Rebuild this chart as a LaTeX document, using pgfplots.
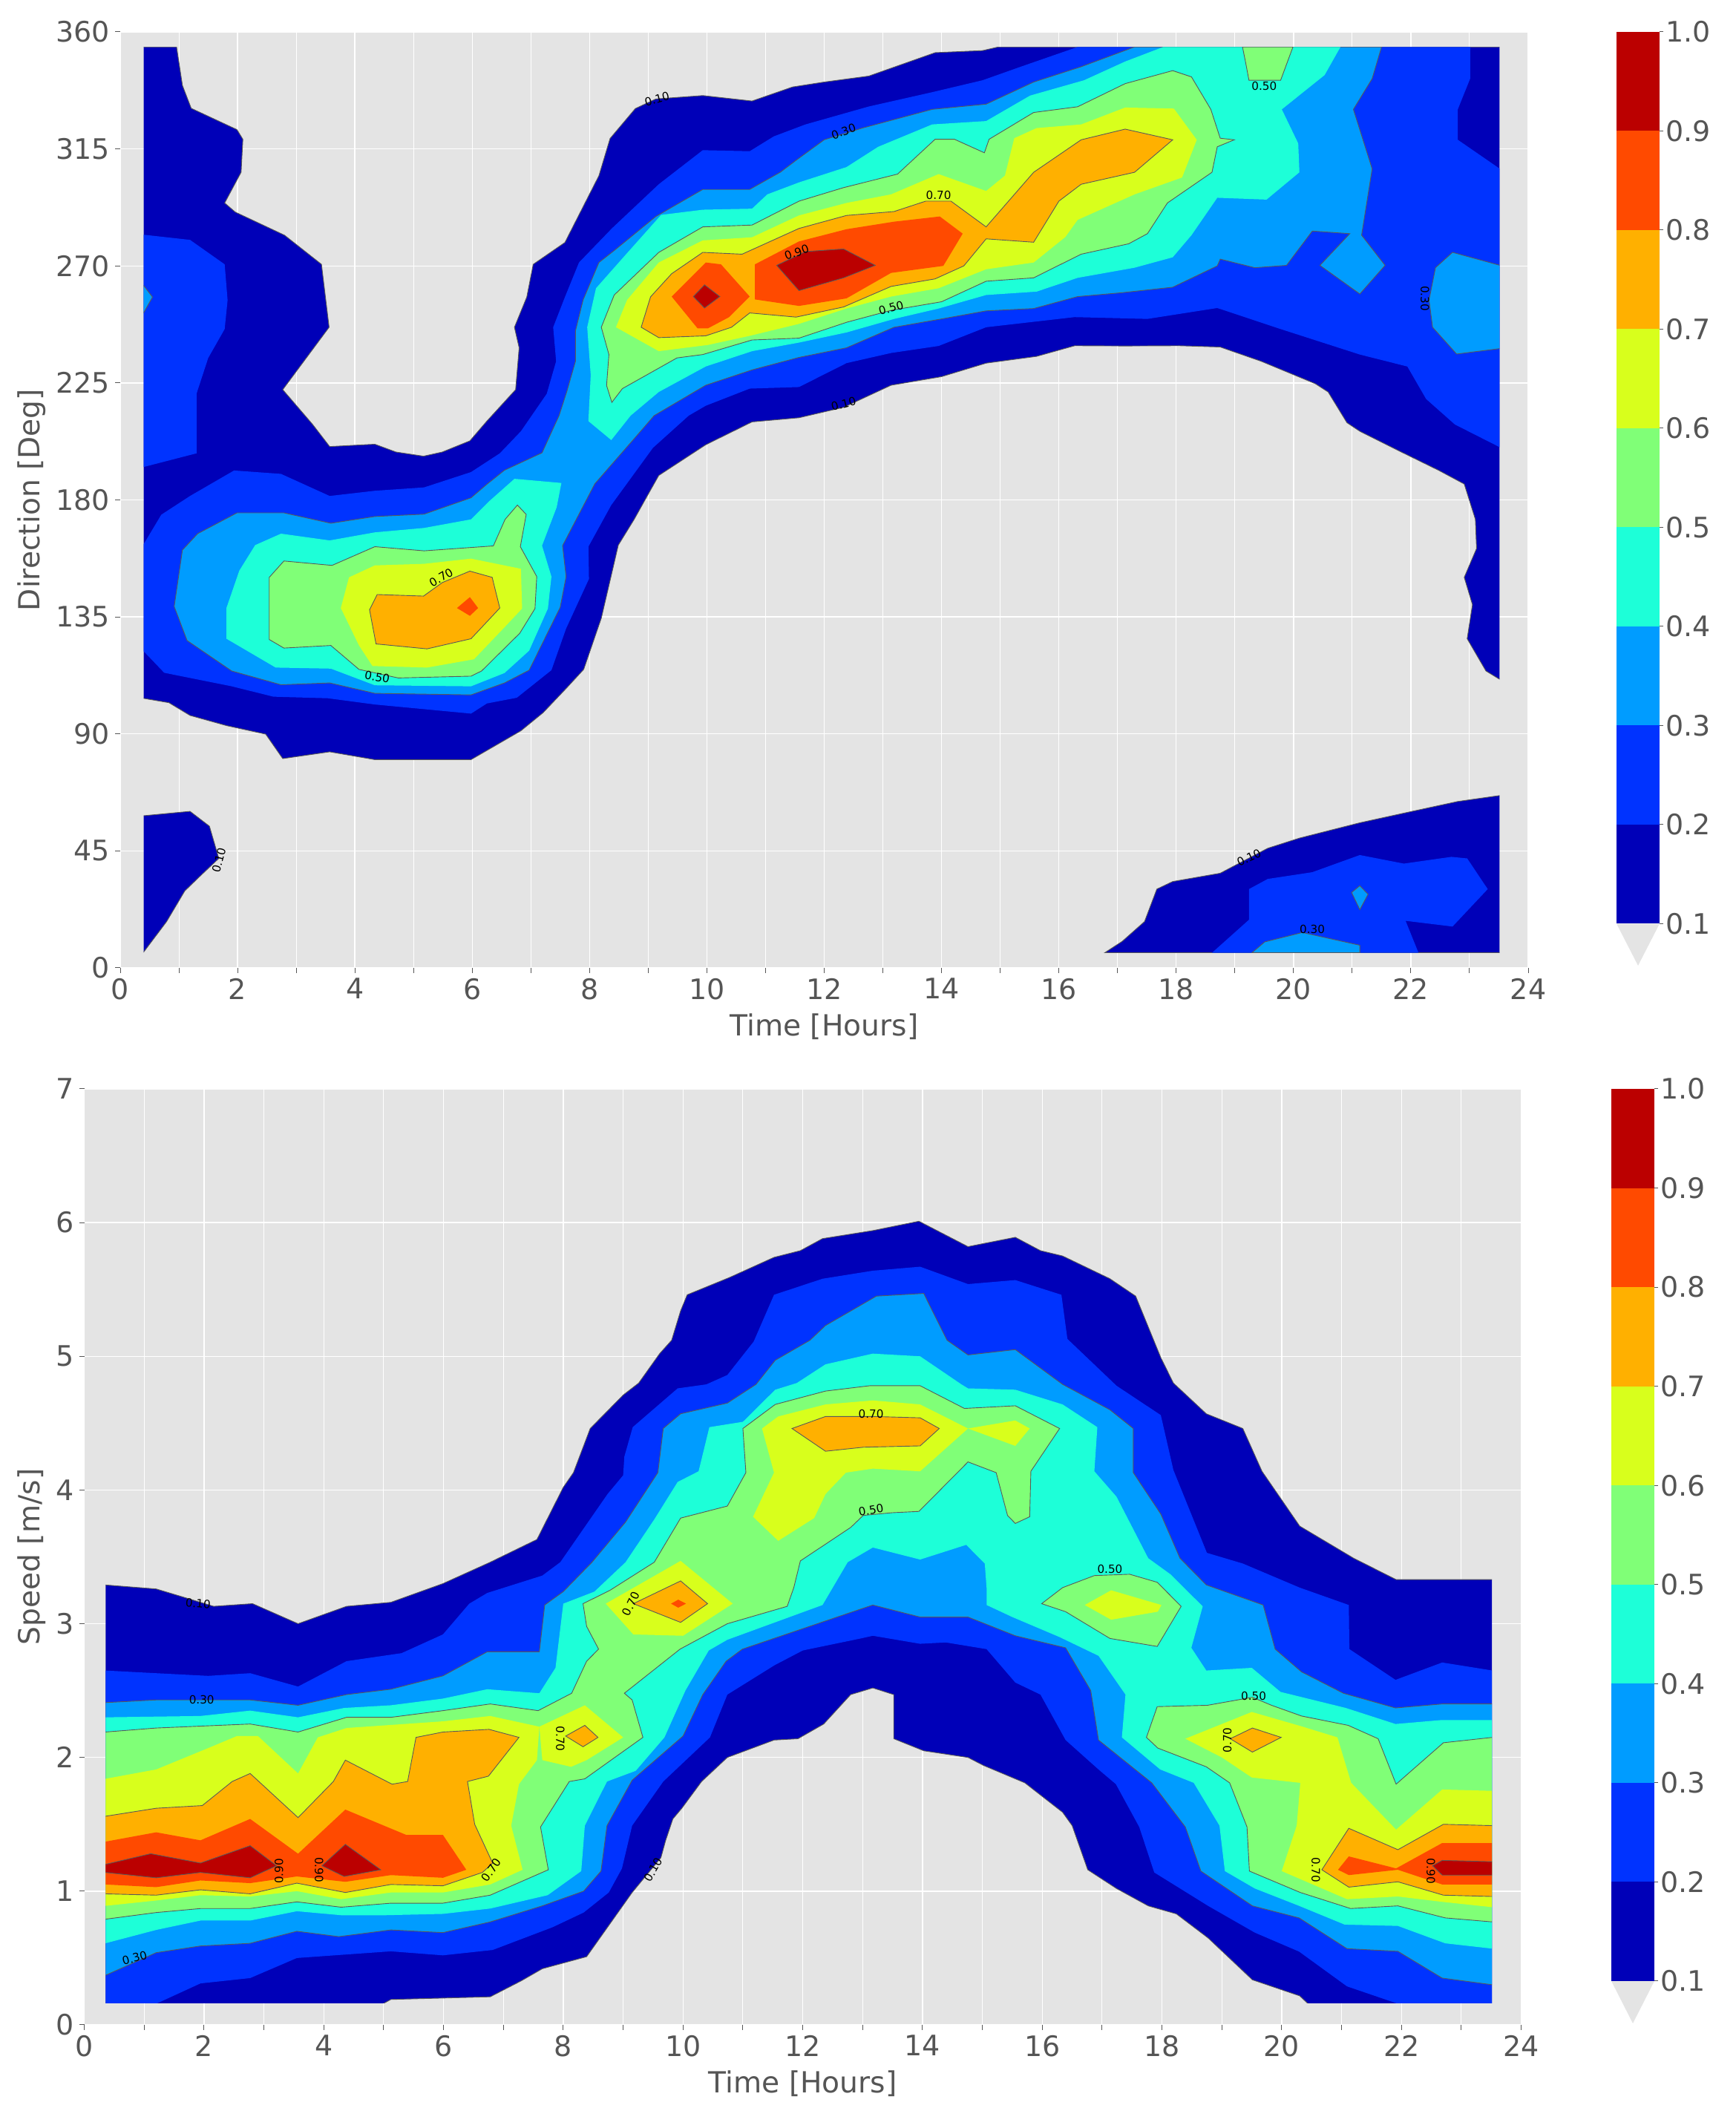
\documentclass[border=0pt]{standalone}
\usepackage{fontspec}
\usepackage{pgfplots}
\pgfplotsset{compat=1.18}
\setmainfont{DejaVu Sans}
\definecolor{ca}{HTML}{0000B8}
\definecolor{cb}{HTML}{0033FF}
\definecolor{cc}{HTML}{009CFF}
\definecolor{cd}{HTML}{1DFFD8}
\definecolor{ce}{HTML}{80FF77}
\definecolor{cf}{HTML}{D8FF1C}
\definecolor{cg}{HTML}{FFB000}
\definecolor{ch}{HTML}{FF4A00}
\definecolor{ci}{HTML}{BB0000}
\definecolor{ggrey}{HTML}{E4E4E4}
\definecolor{txt}{HTML}{555555}
\newcommand{\lf}[2]{\addplot[fill=#1,draw=none,forget plot] coordinates {#2} --cycle;}
\newcommand{\lc}[2]{\addplot[fill=#1,draw=black!65,line width=0.45pt,forget plot] coordinates {#2} --cycle;}
\newcommand{\clab}[4]{\node[font=\fontsize{7.6}{9}\selectfont,text=black,rotate=#3,inner sep=0pt] at (axis cs:#1,#2) {#4};}
\pgfplotsset{
  heat/.style={
    scale only axis, anchor=south west, tick pos=left, tick align=outside,
    xmin=0,xmax=24, xtick={0,2,...,24}, minor x tick num=1, minor y tick num=0,
    grid=both,
    major grid style={white,line width=0.7pt},
    minor grid style={white,line width=0.5pt},
    axis background/.style={fill=ggrey},
    axis line style={draw=none},
    major tick style={txt,line width=0.5pt},
    minor tick style={txt,line width=0.5pt},
    major tick length=3.5pt, minor tick length=3.5pt,
    /pgf/number format/assume math mode=true,
    tick label style={font=\fontsize{19}{23}\selectfont,text=txt},
    label style={font=\fontsize{19.6}{23}\selectfont,text=txt},
    xlabel style={yshift=-2.7pt},
    xlabel={Time [Hours]},
    xticklabel style={/pgf/number format/fixed},
    yticklabel style={/pgf/number format/fixed},
  },
  cbar/.style={
    scale only axis, anchor=south west, clip=false,
    xmin=0,xmax=1,ymin=0.1,ymax=1, width=29pt,
    xtick=\empty, ytick={0.1,0.2,...,1.0}, yticklabels={0.1,0.2,0.3,0.4,0.5,0.6,0.7,0.8,0.9,1.0},
    ytick pos=right, tick align=outside,
    axis line style={draw=none},
    major tick style={txt,line width=0.5pt}, major tick length=2.5pt,
    tick label style={font=\fontsize{19}{23}\selectfont,text=txt,inner sep=1.5pt},
    /pgf/number format/assume math mode=true,
  }
}
\begin{document}
\begin{tikzpicture}[x=1pt,y=1pt]
\path[use as bounding box] (0,0) rectangle (1169,1420);
%% ---------------- TOP
\begin{axis}[heat, at={(81pt,768pt)}, width=948.5pt, height=630.5pt,
  ymin=0,ymax=360, ytick={0,45,...,360}, ylabel={Direction [Deg]}]
\begin{scope}
\clip (axis cs:0.40,5.95) rectangle (axis cs:23.51,354.05);
\lc{ca}{(0.39,354.2)(0.96,354.2)(1.06,339.4)(1.21,330.6)(1.99,322.4)(2.09,318.7)(2.06,306)(1.78,294.2)(1.96,290.7)(2.80,281.8)(3.43,270.6)(3.56,246.4)(2.77,222.4)(3.28,209)(3.57,200.5)(3.99,201)(4.34,201.4)(4.70,198.4)(5.17,196.8)(5.49,198.4)(5.96,202.7)(6.25,210.3)(6.74,222.4)(6.80,238.5)(6.72,246.4)(6.93,258)(7.04,270.6)(7.58,279)(8.16,304.7)(8.35,319)(8.78,330.5)(9.13,334.2)(9.93,335.5)(10.77,333.4)(11.46,338.8)(12.0,340.7)(12.76,343)(13.89,352)(14.7,352.8)(14.97,354.2)(23.52,354.2)(23.52,110.9)(23.28,114.2)(22.96,126.6)(23.05,139.7)(22.91,150.2)(23.12,161.3)(23.10,172.5)(22.91,186.1)(22.48,191.3)(21.83,198.5)(21.13,206.4)(20.91,209.7)(20.59,221.5)(20.37,224.7)(19.45,233.3)(18.75,238.8)(18.05,239.3)(17.13,239.2)(16.27,239.3)(15.62,235.2)(14.76,232.6)(14.0,227.4)(13.14,224.1)(12.33,215.6)(11.57,211.6)(10.77,210)(9.98,201.2)(9.18,189.4)(9.0,182.2)(8.76,172.5)(8.49,162.6)(8.2,134.5)(7.9,114.8)(7.61,107.7)(7.21,98.2)(6.83,91.2)(5.98,80.1)(4.34,80.1)(3.57,83.1)(2.77,80.5)(2.48,89.9)(1.81,93.2)(1.19,97.1)(0.83,102)(0.39,103.7)}
\lc{ca}{(0.39,58.5)(1.19,60.2)(1.52,54.5)(1.68,42.1)(1.37,35.5)(1.1,29.6)(0.79,17.8)(0.39,5.8)}
\lc{ca}{(16.78,5.8)(17.08,10.2)(17.46,17.8)(17.67,30.3)(17.94,33.2)(18.75,36.4)(19.56,46)(20.1,49.9)(21.13,55.8)(21.94,59.8)(22.8,64)(23.52,66.3)(23.52,5.8)}
\lf{cb}{(0.39,282)(1.19,280)(1.78,270.6)(1.83,256.8)(1.78,245.7)(1.5,234.6)(1.3,220.8)(1.30,197.9)(0.39,192.6)}
\lf{cb}{(0.39,162.6)(0.7,174.3)(1.19,181.5)(1.94,191.3)(2.74,190)(3.57,181.5)(4.34,183.5)(5.18,184.8)(5.98,190.7)(6.47,197.9)(6.83,206.4)(7.27,220.8)(7.43,233.3)(7.38,246.4)(7.58,258)(7.82,271.3)(8.38,284.4)(9.18,301.4)(9.93,314.5)(10.73,314.1)(11.14,319.8)(11.68,324.4)(12.76,331.3)(13.84,336.8)(14.7,341.4)(15.35,346.6)(16.32,354.2)(23.01,354.2)(23.01,342)(22.8,330.2)(22.8,318.5)(23.52,307.3)(23.52,200.2)(22.75,209)(22.26,218.8)(21.94,231.3)(21.13,235.9)(19.78,245.7)(18.70,253.8)(17.51,249.6)(16.27,250.3)(14.76,246.4)(13.95,239.2)(13.14,236.5)(12.38,232.6)(11.57,223.4)(10.73,222.8)(9.98,216.2)(9.69,212.4)(9.08,200)(8.37,178)(7.98,162)(7.99,149.6)(7.6,130.5)(7.35,114.5)(6.76,103.9)(6.25,101.7)(5.98,97.8)(4.34,101.3)(3.54,103.7)(2.61,104.3)(1.9,108.3)(0.75,113.5)(0.39,122)}
\lf{cb}{(19.24,30.3)(19.56,34.2)(20.32,36.8)(21.13,43.4)(21.88,40.1)(22.69,42.7)(22.96,42.1)(23.31,30.3)(22.71,15.9)(21.91,18.1)(22.13,5.8)(18.61,5.8)(19.24,18.5)}
\lc{cc}{(10.73,299.4)(11.25,306)(11.52,310.6)(12.0,318.5)(12.65,323)(13.84,330.2)(14.76,332.2)(15.57,340.7)(16.38,346.6)(17.29,354.2)(21.5,354.2)(21.34,342)(21.02,330.2)(21.34,307.3)(21.16,281.8)(21.56,270.2)(21.13,259.2)(20.45,270.2)(20.96,282.4)(20.32,283.4)(19.88,270.2)(19.34,269.3)(18.75,272.6)(18.7,270)(17.94,261.8)(17.08,259.7)(16.32,258.2)(15.57,253.6)(14.76,252.7)(14.0,249.6)(13.19,246.4)(12.38,238.5)(11.57,234.8)(10.77,230)(9.98,224.1)(9.1,212.4)(8.79,204.3)(8.09,186.2)(7.54,162.4)(7.6,150.5)(7.5,138.7)(6.97,114.5)(6.55,109.6)(5.98,105)(4.34,105.6)(3.57,109.6)(2.74,108.9)(1.9,114.2)(1.14,125.9)(0.92,139)(1.06,160.7)(1.32,167)(1.99,175)(2.79,175)(3.59,171)(4.34,173.6)(5.18,174.5)(5.98,180.8)(6.25,186)(6.55,191.4)(7.19,198.1)(7.48,212.4)(7.61,221.5)(7.76,233.3)(7.76,245)(7.89,256.9)(8.16,271.3)(8.42,275.9)(9.13,289)(9.93,299.4)}
\lc{cc}{(0.39,262.7)(0.55,258)(0.39,251.6)}
\lc{cc}{(22.71,275.2)(23.52,270.2)(23.52,238.2)(22.78,236.1)(22.37,246.4)(22.31,256.9)(22.42,269.3)}
\lc{cc}{(19.29,5.8)(19.51,10)(20.15,13.6)(21.13,8.7)(21.13,5.8)}
\lc{cc}{(21.13,31.6)(21.27,28.3)(21.13,22.4)(20.99,29)}
\lf{cd}{(2.3,162.6)(2.74,167)(3.57,164.4)(4.34,167.5)(5.18,169.2)(5.98,172.5)(6.29,179.5)(6.72,188.1)(7.52,186.5)(7.44,177.2)(7.19,162.4)(7.35,150.5)(7.29,138.2)(6.97,122)(6.55,113.4)(5.98,108.3)(4.34,108.7)(3.59,115.1)(2.65,115.5)(1.81,126.6)(1.81,138.4)(2.03,152.8)}
\lf{cd}{(7.98,210.3)(8.02,228)(7.96,246.4)(8.11,261.4)(8.6,273.9)(9.22,289.6)(9.93,291.6)(10.77,292)(11.03,297.5)(11.57,302.1)(12.38,308)(12.92,315.8)(13.84,324.4)(14.76,325.7)(15.51,335.5)(16.43,341.4)(17.13,348.6)(17.78,354.2)(20.8,354.2)(20.53,343.4)(19.8,330.2)(20.08,317.1)(20.1,306)(19.54,295.5)(18.7,296.2)(18.26,281.8)(17.94,273.3)(17.29,269.3)(16.32,265.4)(15.62,260.1)(14.76,258.8)(13.95,253.6)(13.19,249.6)(12.38,244.4)(11.57,240.5)(10.77,237.2)(9.98,231.3)(9.18,221.5)(8.7,212.4)(8.37,203)}
\lc{ce}{(19.13,354.2)(19.99,354.2)(19.78,341.4)(19.24,341.4)(19.18,348.6)}
\lc{ce}{(8.38,217.5)(8.29,224)(8.33,235.9)(8.2,246.4)(8.42,258.8)(9.18,275.2)(9.93,285)(10.77,285.7)(11.57,294.9)(12.33,300.1)(13.25,305.3)(13.89,318.7)(14.22,318.7)(14.73,313.5)(14.81,318.7)(15.57,329)(16.32,331.2)(17.13,340.1)(17.94,345.1)(18.26,342.7)(18.59,330.2)(18.75,319.1)(18.99,318.5)(18.7,315.8)(18.61,306)(17.85,294.2)(17.51,282.4)(17.19,278.5)(16.38,274.5)(15.57,265.4)(14.76,264.1)(14.0,256.2)(13.14,252.9)(12.38,248.3)(11.57,242.2)(10.77,241.5)(9.93,235.9)(9.49,234.6)(8.56,222.8)}
\lc{ce}{(2.79,156.5)(3.61,154.8)(4.34,162)(5.18,160.4)(6.36,162.3)(6.56,172.5)(6.77,178)(6.92,174.4)(6.82,162)(7.1,150.5)(7.07,138.2)(6.81,128.7)(6.16,114.2)(5.98,112.2)(4.74,111.5)(4.07,114.8)(3.59,124)(2.79,123)(2.54,126.3)(2.54,150.2)}
\lf{cf}{(9.93,279.8)(10.77,281)(11.57,289.4)(12.38,294.2)(13.14,297.5)(13.95,305.3)(14.76,298.8)(15.08,304.7)(15.24,319.1)(15.62,323)(16.38,324.4)(17.13,330.9)(17.96,330.5)(18.35,318.5)(18.1,304)(17.29,297.5)(16.32,287.7)(16.11,281.1)(15.57,271.3)(14.76,268.7)(13.95,261.4)(13.14,258.2)(12.38,253.6)(11.57,247.7)(10.73,243.1)(10.02,239.6)(9.18,237.2)(8.45,246.4)(8.64,256.9)(9.18,271.3)}
\lf{cf}{(3.9,150.2)(4.34,154.8)(5.18,155.4)(5.98,157.4)(6.83,153.5)(6.85,138.2)(6.55,131)(6.03,118.7)(5.23,115.5)(4.3,116.1)(4.07,124)(3.76,138.4)}
\lc{cg}{(8.88,246.4)(9.04,258.1)(9.4,267)(9.93,275.2)(10.6,274.5)(11.57,284.4)(12.38,289.4)(13.19,290.9)(13.73,294.9)(14.16,294.9)(14.76,285)(15.57,306)(16.38,318.5)(17.13,322.6)(17.94,318.5)(17.29,306)(16.38,301.4)(16.0,294.9)(15.57,279.1)(14.76,280.4)(14.38,270)(13.89,265)(13.14,262.1)(12.33,254.2)(11.52,250.3)(10.73,251.9)(10.42,246.4)(9.98,243.1)(9.18,242.4)}
\lc{cg}{(4.38,143.6)(5.17,143)(5.49,148.2)(5.96,152.6)(6.34,150.2)(6.47,138.4)(5.98,126.6)(5.23,122.7)(4.36,124.6)(4.25,137.7)}
\lf{ch}{(9.98,271.3)(10.24,270.6)(10.73,258.2)(10.38,250.3)(10.02,246)(9.84,246)(9.4,258.2)}
\lf{ch}{(10.82,270.6)(11.57,279.4)(12.38,284.1)(13.19,287)(13.97,289)(14.36,282.4)(14.03,270)(13.14,267.3)(12.38,257.5)(11.57,254.6)(10.82,257.1)}
\lf{ch}{(5.96,142.6)(6.1,138.4)(5.96,135.4)(5.74,138.4)}
\lc{ci}{(9.96,262.7)(10.22,258.2)(9.96,253.8)(9.77,258.2)}
\lc{ci}{(11.19,270.2)(11.68,275.5)(12.33,276.5)(12.87,270.2)(12.33,265.4)(11.57,260.5)}
\end{scope}
\clab{9.15}{334.2}{15}{0.10}
\clab{12.33}{321.7}{20}{0.30}
\clab{11.53}{275.2}{20}{0.90}
\clab{13.95}{297.2}{0}{0.70}
\clab{13.14}{253.8}{15}{0.50}
\clab{12.33}{216.9}{15}{0.10}
\clab{19.5}{339.2}{0}{0.50}
\clab{22.24}{257.5}{270}{0.30}
\clab{5.47}{150.2}{30}{0.70}
\clab{4.38}{111.9}{-10}{0.50}
\clab{1.68}{41.4}{75}{0.10}
\clab{19.24}{42.5}{25}{0.10}
\clab{20.32}{14.8}{0}{0.30}
\end{axis}
%% ---------------- BOTTOM
\begin{axis}[heat, at={(56.8pt,56pt)}, width=968pt, height=630.5pt,
  ymin=0,ymax=7, ytick={0,...,7}, ylabel={Speed [m/s]}]
\begin{scope}
\clip (axis cs:0.357,0.161) rectangle (axis cs:23.51,7);
\lc{ca}{(0.35,3.29)(1.2,3.26)(1.72,3.19)(2.16,3.13)(2.81,3.15)(3.57,3.0)(4.38,3.13)(5.12,3.16)(5.99,3.30)(6.78,3.46)(7.56,3.63)(8.0,4.02)(8.17,4.13)(8.34,4.33)(8.45,4.46)(9.0,4.71)(9.26,4.8)(9.61,5.02)(9.81,5.12)(9.96,5.34)(10.07,5.46)(10.78,5.59)(11.52,5.74)(11.96,5.79)(12.33,5.88)(13.17,5.94)(13.94,6.01)(14.76,5.82)(15.55,5.89)(15.97,5.79)(16.34,5.75)(17.13,5.58)(17.56,5.45)(17.98,4.99)(18.19,4.8)(18.74,4.57)(19.35,4.46)(19.67,4.14)(20.3,3.73)(21.2,3.49)(21.91,3.33)(23.52,3.33)(23.52,0.158)(20.44,0.158)(20.3,0.217)(19.51,0.337)(18.77,0.65)(18.24,0.83)(17.77,0.89)(17.24,1.02)(16.76,1.16)(16.5,1.49)(16.34,1.59)(15.71,1.81)(15.02,1.94)(14.76,2.0)(14.02,2.05)(13.52,2.14)(13.52,2.47)(13.17,2.52)(12.8,2.47)(12.35,2.25)(11.92,2.14)(11.52,2.13)(10.74,2.0)(10.31,1.82)(9.98,1.62)(9.83,1.54)(9.71,1.38)(9.63,1.25)(9.15,0.99)(8.39,0.51)(7.65,0.42)(7.3,0.33)(6.78,0.21)(5.12,0.19)(4.99,0.158)(0.35,0.158)}
\lf{cb}{(0.35,2.65)(1.2,2.63)(2.07,2.61)(2.77,2.63)(3.57,2.53)(4.38,2.72)(5.3,2.78)(5.99,2.92)(6.43,3.15)(6.73,3.23)(7.65,3.36)(7.95,3.46)(8.43,3.77)(8.74,3.97)(9.0,4.11)(9.02,4.25)(9.16,4.47)(9.91,4.76)(10.39,4.79)(10.74,4.86)(11.18,5.11)(11.52,5.46)(12.33,5.58)(13.17,5.64)(13.96,5.67)(14.76,5.54)(15.55,5.57)(16.32,5.46)(16.42,5.13)(17.24,4.78)(17.98,4.56)(18.19,4.15)(18.75,3.53)(19.35,3.45)(20.3,3.27)(21.12,3.14)(21.13,2.81)(21.9,2.58)(22.68,2.71)(23.52,2.65)(23.52,0.158)(21.94,0.158)(21.09,0.288)(20.29,0.548)(19.55,0.69)(18.77,0.89)(17.87,1.14)(17.62,1.48)(17.23,1.8)(16.94,1.91)(16.39,2.13)(15.97,2.47)(15.55,2.56)(15.07,2.81)(14.39,2.86)(13.96,2.85)(13.17,2.91)(12.97,2.89)(12.0,2.8)(11.53,2.69)(10.74,2.47)(10.45,2.15)(9.67,1.82)(9.15,1.49)(8.98,1.17)(8.76,0.99)(8.34,0.84)(7.82,0.73)(6.82,0.56)(5.99,0.52)(5.12,0.55)(3.55,0.5)(2.77,0.35)(1.94,0.31)(1.2,0.158)(0.35,0.158)}
\lc{cc}{(0.35,2.41)(1.2,2.43)(2.77,2.43)(3.57,2.39)(4.38,2.47)(5.12,2.51)(5.99,2.61)(6.73,2.79)(7.6,2.79)(7.69,3.14)(8.0,3.24)(8.48,3.46)(9.04,3.76)(9.58,4.13)(9.67,4.46)(9.96,4.57)(10.74,4.65)(11.22,4.79)(11.54,4.97)(12.12,5.12)(12.38,5.23)(13.23,5.45)(14.02,5.47)(14.41,5.12)(14.76,5.01)(15.55,5.05)(16.34,4.79)(17.13,4.6)(17.52,4.46)(17.52,4.13)(17.98,3.82)(18.3,3.49)(18.74,3.29)(19.69,3.14)(19.89,2.81)(20.33,2.64)(21.03,2.48)(21.9,2.37)(22.68,2.4)(23.52,2.4)(23.52,0.3)(22.68,0.35)(21.94,0.55)(21.09,0.57)(20.29,0.8)(19.51,0.89)(18.65,1.15)(18.39,1.48)(17.83,1.81)(16.94,2.13)(16.81,2.5)(16.39,2.82)(15.55,2.91)(14.76,3.05)(13.96,3.05)(13.17,3.14)(12.97,3.11)(10.99,2.81)(10.72,2.72)(10.33,2.47)(10.0,2.16)(9.15,1.83)(8.73,1.49)(8.63,1.15)(8.34,1.0)(7.65,0.89)(6.78,0.77)(5.99,0.69)(5.12,0.71)(4.25,0.66)(3.55,0.7)(2.77,0.61)(1.94,0.59)(1.2,0.54)(0.35,0.37)}
\lf{cd}{(0.35,2.3)(1.94,2.31)(2.77,2.35)(3.57,2.3)(4.34,2.37)(5.12,2.39)(5.99,2.44)(6.73,2.51)(7.6,2.48)(7.87,2.67)(8.0,3.15)(8.52,3.24)(9.04,3.46)(9.52,3.78)(9.91,4.06)(10.26,4.14)(10.44,4.47)(11.0,4.51)(11.54,4.75)(11.9,4.8)(12.38,4.94)(13.17,5.02)(13.96,5.0)(14.65,4.79)(14.76,4.76)(15.55,4.75)(16.34,4.64)(16.92,4.47)(16.87,4.14)(17.24,3.95)(17.77,3.49)(18.14,3.37)(18.68,3.13)(18.49,2.82)(18.74,2.65)(19.5,2.67)(19.98,2.49)(21.07,2.37)(21.9,2.25)(22.68,2.28)(23.52,2.28)(23.52,0.57)(22.73,0.61)(21.94,0.74)(21.05,0.75)(20.29,0.89)(19.55,1.02)(19.05,1.15)(18.96,1.49)(18.53,1.81)(17.97,1.91)(17.33,2.15)(17.39,2.47)(16.94,2.76)(16.29,2.9)(15.5,3.05)(15.07,3.14)(15.07,3.27)(15.04,3.45)(14.73,3.59)(13.96,3.48)(13.17,3.57)(12.75,3.46)(12.33,3.14)(10.74,2.88)(10.43,2.8)(10.04,2.5)(9.69,2.15)(9.21,1.9)(8.73,1.82)(8.36,1.49)(8.3,1.15)(7.74,0.97)(6.78,0.87)(5.99,0.83)(5.03,0.82)(4.29,0.82)(3.55,0.85)(2.77,0.78)(1.94,0.78)(1.2,0.71)(0.35,0.61)}
\lc{ce}{(0.35,2.19)(1.2,2.22)(2.77,2.25)(3.57,2.19)(4.38,2.3)(5.12,2.3)(5.99,2.35)(6.78,2.4)(7.58,2.35)(8.14,2.48)(8.39,2.72)(8.59,2.81)(8.39,2.98)(8.33,3.15)(8.78,3.25)(9.52,3.46)(9.96,3.79)(10.74,3.88)(11.05,4.13)(11.0,4.46)(11.54,4.64)(12.38,4.74)(13.12,4.78)(13.96,4.78)(14.7,4.61)(15.55,4.63)(16.29,4.46)(15.81,4.14)(15.79,3.8)(15.55,3.75)(15.42,3.81)(15.23,4.13)(14.76,4.21)(13.94,3.84)(13.49,3.83)(13.01,3.81)(12.8,3.72)(11.96,3.47)(11.85,3.27)(11.74,3.13)(10.74,3.0)(9.95,2.81)(9.02,2.48)(9.15,2.43)(9.33,2.15)(8.36,1.84)(8.1,1.82)(7.62,1.48)(7.75,1.16)(6.78,0.97)(5.99,0.91)(5.12,0.91)(4.29,0.88)(3.55,0.92)(2.77,0.87)(1.94,0.87)(1.2,0.84)(0.35,0.79)}
\lc{ce}{(17.92,2.38)(18.76,2.39)(19.51,2.45)(19.83,2.39)(20.33,2.31)(21.11,2.24)(21.61,2.14)(21.91,1.8)(22.7,2.11)(23.52,2.15)(23.52,0.77)(22.73,0.8)(21.94,0.89)(21.15,0.87)(20.31,0.99)(19.46,1.15)(19.42,1.48)(19.13,1.81)(18.74,1.93)(17.93,2.07)(17.74,2.15)}
\lc{ce}{(15.99,3.15)(16.34,3.27)(16.87,3.36)(17.46,3.37)(17.92,3.31)(18.32,3.13)(17.92,2.83)(17.13,2.89)(16.39,3.09)}
\lf{cf}{(0.35,1.84)(1.2,1.91)(2.07,2.07)(2.55,2.16)(2.9,2.16)(3.57,1.88)(3.9,2.15)(4.38,2.22)(5.99,2.27)(6.78,2.31)(7.6,2.23)(7.56,1.98)(7.26,1.8)(7.13,1.49)(7.32,1.16)(6.78,1.05)(5.99,0.99)(5.12,0.99)(4.29,0.94)(3.55,1.0)(2.77,0.96)(1.94,0.97)(1.2,0.93)(0.35,0.89)}
\lf{cf}{(7.6,2.23)(8.36,2.39)(9.0,2.15)(8.39,1.98)(8.13,1.93)(7.65,1.98)}
\lf{cf}{(8.71,3.15)(9.96,3.47)(10.83,3.15)(10.0,2.91)(9.17,2.92)}
\lf{cf}{(11.32,4.46)(11.59,4.55)(12.38,4.64)(13.17,4.67)(13.96,4.64)(14.76,4.46)(15.55,4.52)(15.79,4.46)(15.55,4.33)(14.76,4.46)(13.96,4.14)(13.17,4.16)(12.72,4.13)(12.38,3.97)(12.19,3.79)(11.59,3.62)(11.17,3.8)(11.52,4.13)}
\lf{cf}{(16.71,3.14)(17.15,3.25)(17.99,3.14)(17.93,3.09)(17.15,3.03)}
\lf{cf}{(18.39,2.14)(19.5,2.34)(20.35,2.23)(20.93,2.15)(21.16,1.81)(21.91,1.46)(22.68,1.76)(23.52,1.75)(23.52,0.88)(22.68,0.92)(21.94,0.96)(21.09,0.94)(20.0,1.15)(20.25,1.49)(20.31,1.81)(19.5,1.85)(19.0,2.0)}
\lc{cg}{(0.35,1.56)(1.2,1.62)(1.97,1.64)(2.47,1.82)(2.77,1.88)(3.57,1.55)(4.16,1.82)(4.36,1.98)(5.14,1.8)(5.4,1.82)(5.54,2.15)(5.99,2.19)(6.76,2.21)(7.26,2.15)(6.75,1.86)(6.4,1.82)(6.52,1.5)(6.82,1.21)(6.65,1.14)(5.99,1.04)(5.12,1.05)(4.36,0.99)(3.55,1.06)(2.77,0.98)(1.94,1.01)(1.2,0.97)(0.35,0.98)}
\lc{cg}{(8.04,2.16)(8.36,2.24)(8.58,2.15)(8.33,2.08)}
\lc{cg}{(9.17,3.15)(9.96,3.32)(10.41,3.15)(9.96,3.01)}
\lc{cg}{(11.82,4.46)(12.38,4.55)(13.17,4.55)(13.96,4.54)(14.28,4.46)(13.96,4.33)(13.01,4.32)(12.38,4.29)}
\lc{cg}{(19.14,2.14)(19.51,2.22)(19.99,2.15)(19.51,2.04)}
\lc{cg}{(21.12,1.47)(21.94,1.31)(22.7,1.5)(23.52,1.49)(23.52,0.96)(22.7,0.97)(21.94,1.07)(21.12,1.03)(20.67,1.16)}
\lf{ch}{(0.35,1.37)(1.2,1.44)(1.94,1.38)(2.77,1.54)(3.57,1.28)(4.36,1.61)(5.38,1.42)(5.99,1.42)(6.38,1.16)(5.99,1.1)(5.12,1.12)(4.36,1.07)(3.55,1.11)(2.77,1.06)(1.94,1.08)(1.2,1.03)(0.35,1.05)}
\lf{ch}{(9.8,3.15)(9.92,3.18)(10.05,3.15)(9.92,3.12)}
\lf{ch}{(20.94,1.16)(21.12,1.26)(21.91,1.17)(22.68,1.36)(23.52,1.36)(23.52,1.05)(22.68,1.05)(21.94,1.16)(21.12,1.12)}
\lc{ci}{(0.35,1.2)(1.11,1.28)(1.94,1.21)(2.77,1.34)(3.21,1.19)(2.77,1.1)(1.94,1.14)(1.2,1.1)(0.35,1.14)}
\lc{ci}{(3.97,1.19)(4.36,1.35)(4.95,1.16)(4.34,1.11)}
\lc{ci}{(22.52,1.19)(22.68,1.23)(23.52,1.22)(23.52,1.12)(22.68,1.12)}
\end{scope}
\clab{1.9}{3.15}{-5}{0.10}
\clab{1.96}{2.43}{0}{0.30}
\clab{0.84}{0.5}{15}{0.30}
\clab{3.25}{1.15}{90}{0.90}
\clab{3.92}{1.16}{270}{0.90}
\clab{6.8}{1.16}{55}{0.70}
\clab{7.95}{2.14}{270}{0.70}
\clab{9.13}{3.15}{65}{0.70}
\clab{9.5}{1.16}{60}{0.10}
\clab{13.14}{4.57}{0}{0.70}
\clab{13.14}{3.85}{10}{0.50}
\clab{17.13}{3.41}{0}{0.50}
\clab{19.53}{2.46}{0}{0.50}
\clab{19.09}{2.13}{90}{0.70}
\clab{20.57}{1.16}{270}{0.70}
\clab{22.49}{1.15}{270}{0.90}
\end{axis}
%% ---------------- COLOUR BARS
\begin{axis}[cbar, at={(1089pt,797.75pt)}, height=600.75pt]
\addplot[fill=ggrey,draw=none] coordinates {(0,0.1)(1,0.1)(0.5,0.0577)} --cycle;
\lf{ca}{(0,0.1)(1,0.1)(1,0.2)(0,0.2)}
\lf{cb}{(0,0.2)(1,0.2)(1,0.3)(0,0.3)}
\lf{cc}{(0,0.3)(1,0.3)(1,0.4)(0,0.4)}
\lf{cd}{(0,0.4)(1,0.4)(1,0.5)(0,0.5)}
\lf{ce}{(0,0.5)(1,0.5)(1,0.6)(0,0.6)}
\lf{cf}{(0,0.6)(1,0.6)(1,0.7)(0,0.7)}
\lf{cg}{(0,0.7)(1,0.7)(1,0.8)(0,0.8)}
\lf{ch}{(0,0.8)(1,0.8)(1,0.9)(0,0.9)}
\lf{ci}{(0,0.9)(1,0.9)(1,1.0)(0,1.0)}
\end{axis}
\begin{axis}[cbar, at={(1085.5pt,85.5pt)}, height=601pt]
\addplot[fill=ggrey,draw=none] coordinates {(0,0.1)(1,0.1)(0.5,0.0573)} --cycle;
\lf{ca}{(0,0.1)(1,0.1)(1,0.2)(0,0.2)}
\lf{cb}{(0,0.2)(1,0.2)(1,0.3)(0,0.3)}
\lf{cc}{(0,0.3)(1,0.3)(1,0.4)(0,0.4)}
\lf{cd}{(0,0.4)(1,0.4)(1,0.5)(0,0.5)}
\lf{ce}{(0,0.5)(1,0.5)(1,0.6)(0,0.6)}
\lf{cf}{(0,0.6)(1,0.6)(1,0.7)(0,0.7)}
\lf{cg}{(0,0.7)(1,0.7)(1,0.8)(0,0.8)}
\lf{ch}{(0,0.8)(1,0.8)(1,0.9)(0,0.9)}
\lf{ci}{(0,0.9)(1,0.9)(1,1.0)(0,1.0)}
\end{axis}
\end{tikzpicture}
\end{document}
